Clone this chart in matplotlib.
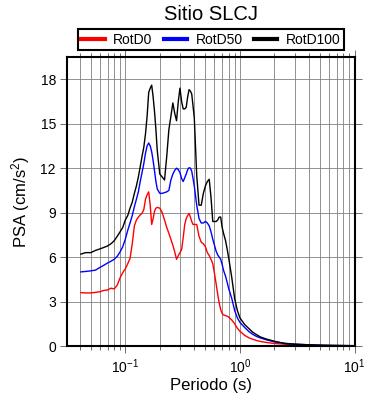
import matplotlib
matplotlib.use("Agg")
import matplotlib.pyplot as plt
from matplotlib.ticker import LogLocator, MultipleLocator, NullFormatter

plt.rcParams['font.family'] = ['Liberation Sans', 'DejaVu Sans']
plt.rcParams['mathtext.default'] = 'regular'

# periods (s)
periods = [0.041, 0.045, 0.05, 0.055, 0.06, 0.065, 0.07, 0.075, 0.08, 0.085,
           0.09, 0.095, 0.1, 0.105, 0.11, 0.115, 0.12, 0.125, 0.13, 0.135,
           0.14, 0.145, 0.15, 0.155, 0.16, 0.165, 0.17, 0.175, 0.18, 0.185,
           0.19, 0.2, 0.21, 0.22, 0.23, 0.24, 0.25, 0.26, 0.27, 0.28,
           0.29, 0.30, 0.31, 0.32, 0.33, 0.34, 0.35, 0.36, 0.37, 0.38,
           0.39, 0.40, 0.42, 0.44, 0.46, 0.48, 0.50, 0.52, 0.54, 0.56,
           0.58, 0.60, 0.62, 0.64, 0.66, 0.68, 0.70, 0.72, 0.75, 0.78,
           0.80, 0.85, 0.90, 0.95, 1.0, 1.1, 1.2, 1.3, 1.4, 1.5,
           1.7, 2.0, 2.5, 3.0, 4.0, 5.0, 6.0, 8.0, 10.0]

rotd0 = [3.6, 3.58, 3.58, 3.62, 3.66, 3.75, 3.78, 3.9, 3.85, 4.1,
         4.6, 4.95, 5.2, 5.55, 5.9, 6.9, 8.1, 8.5, 8.7, 8.85,
         8.95, 9.2, 9.9, 10.2, 10.4, 9.5, 8.2, 8.6, 9.1, 9.3,
         9.35, 9.3, 9.0, 8.5, 8.0, 7.6, 7.2, 6.8, 6.35, 5.85,
         6.1, 6.3, 6.5, 7.3, 8.2, 8.6, 8.8, 8.95, 8.7, 8.4,
         8.2, 8.2, 8.2, 7.4, 7.0, 6.9, 6.7, 6.3, 6.1, 5.85,
         5.55, 4.9, 4.2, 3.5, 2.9, 2.45, 2.2, 2.1, 2.05, 2.0,
         1.95, 1.75, 1.5, 1.2, 1.0, 0.72, 0.55, 0.45, 0.37, 0.31,
         0.24, 0.17, 0.12, 0.09, 0.06, 0.04, 0.03, 0.02, 0.02]

rotd50 = [5.0, 5.03, 5.07, 5.12, 5.3, 5.45, 5.6, 5.72, 5.85, 6.05,
          6.35, 6.7, 7.2, 7.8, 8.3, 8.8, 9.4, 9.9, 10.4, 11.1,
          11.7, 12.3, 13.0, 13.5, 13.7, 13.5, 13.1, 12.5, 11.8, 11.1,
          10.6, 10.3, 10.3, 10.35, 10.4, 10.5, 11.2, 11.6, 11.85, 12.0,
          11.9, 11.7, 11.3, 11.1, 11.35, 11.6, 11.9, 12.03, 12.0, 11.8,
          11.3, 10.8, 9.5, 8.6, 8.3, 8.3, 8.41, 8.3, 8.1, 7.7,
          7.2, 6.8, 6.4, 6.15, 6.0, 5.85, 5.5, 5.1, 4.7, 4.2,
          3.85, 3.2, 2.4, 1.9, 1.6, 1.25, 0.97, 0.78, 0.64, 0.55,
          0.42, 0.28, 0.18, 0.13, 0.08, 0.06, 0.04, 0.03, 0.02]

rotd100 = [6.2, 6.3, 6.3, 6.45, 6.55, 6.65, 6.75, 6.9, 7.1, 7.4,
           7.7, 8.0, 8.5, 8.8, 9.3, 9.7, 10.3, 10.8, 11.4, 12.1,
           12.8, 13.4, 14.3, 15.5, 17.1, 17.4, 17.6, 16.8, 15.8, 14.6,
           13.2, 11.6, 11.4, 11.2, 12.8, 14.6, 15.5, 16.4, 15.7, 15.2,
           16.5, 17.4, 16.5, 16.0, 16.0, 16.1, 16.8, 17.3, 17.2, 17.0,
           16.2, 15.4, 11.5, 9.5, 9.5, 10.3, 10.8, 11.1, 11.25, 10.0,
           8.4, 8.4, 8.4, 8.5, 8.7, 8.7, 8.0, 7.6, 7.1, 6.4,
           5.9, 4.6, 3.2, 2.4, 1.9, 1.45, 1.17, 0.92, 0.76, 0.62,
           0.47, 0.32, 0.16, 0.12, 0.08, 0.05, 0.04, 0.03, 0.02]

fig = plt.figure(figsize=(3.9, 4.0), dpi=100)
ax = fig.add_axes([67 / 390, 54 / 400, 287.5 / 390, 289 / 400])

ax.plot(periods, rotd0, color='red', lw=1.0, label='RotD0')
ax.plot(periods, rotd50, color='blue', lw=1.0, label='RotD50')
ax.plot(periods, rotd100, color='black', lw=1.0, label='RotD100')

ax.set_xscale('log')
ax.set_xlim(0.031, 10)
ax.set_ylim(0, 19.5)
ax.yaxis.set_major_locator(MultipleLocator(3))
ax.xaxis.set_major_locator(LogLocator(base=10, numticks=10))
ax.xaxis.set_minor_locator(LogLocator(base=10, subs=range(2, 10), numticks=20))
ax.xaxis.set_minor_formatter(NullFormatter())

ax.grid(True, which='major', color='#808080', lw=0.6)
ax.grid(True, which='minor', axis='x', color='#808080', lw=0.6)
ax.set_axisbelow(True)

for s in ax.spines.values():
    s.set_linewidth(1.5)

ax.tick_params(which='major', direction='out', length=5, width=0.6,
               color='#555555', labelsize=10, pad=3,
               top=True, right=True)
ax.tick_params(which='minor', direction='out', length=3, width=0.6,
               color='#555555', top=True, right=False, left=False)

ax.set_xlabel('Periodo (s)', fontsize=12, labelpad=2)
ax.set_ylabel('PSA (cm/s$^2$)', fontsize=12, labelpad=6)

leg = ax.legend(loc='center', bbox_to_anchor=(0.5, 1.059),
                ncol=3, fontsize=10, handlelength=1.7, handletextpad=0.6,
                columnspacing=0.8, fancybox=False, framealpha=1,
                edgecolor='black', borderpad=0.25, borderaxespad=0)
leg.get_frame().set_linewidth(1.5)
for h in leg.get_lines():
    h.set_linewidth(3)

fig.text(210.5 / 390, 1 - 14.5 / 400, 'Sitio SLCJ', fontsize=14.5,
         ha='center', va='center')

fig.savefig('out.png', dpi=100)
